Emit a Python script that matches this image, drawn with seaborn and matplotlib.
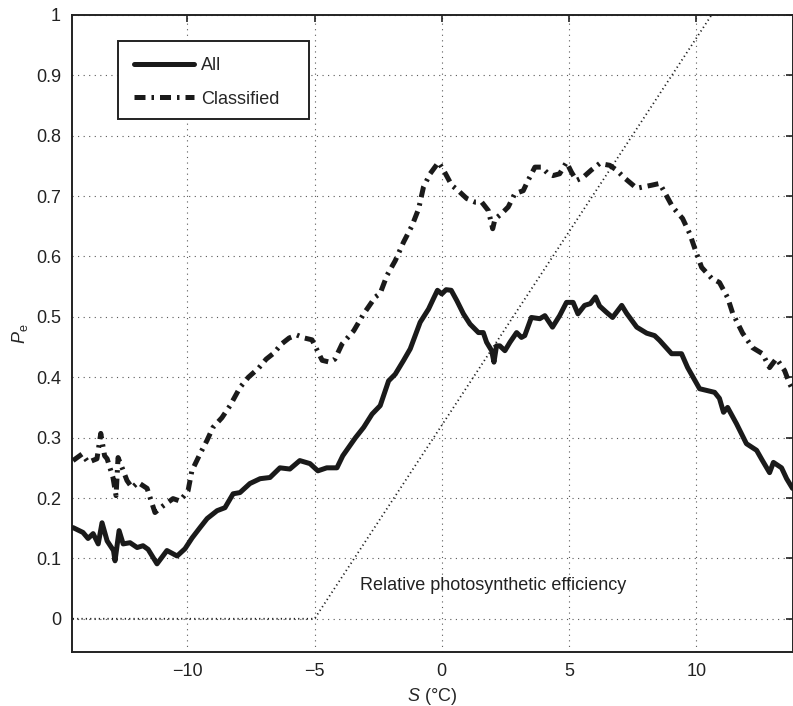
import numpy as np
import pandas as pd
import matplotlib
matplotlib.use("Agg")
import matplotlib.pyplot as plt
from matplotlib.patches import Rectangle
import seaborn as sns

# P_e curve, all data
all_x = [-14.49, -14.1, -13.9, -13.7, -13.5, -13.35, -13.15, -12.9, -12.84, -12.68,
         -12.52, -12.25, -11.97, -11.74, -11.54, -11.19, -10.8, -10.4, -10.09, -9.81,
         -9.5, -9.22, -8.83, -8.52, -8.2, -7.93, -7.54, -7.14, -6.75, -6.36,
         -5.97, -5.58, -5.18, -4.87, -4.52, -4.12, -3.89, -3.39, -3.07, -2.74,
         -2.42, -2.09, -1.83, -1.5, -1.24, -0.85, -0.52, -0.33, -0.17, 0.0,
         0.17, 0.37, 0.59, 0.85, 1.11, 1.44, 1.63, 1.76, 1.96, 2.05,
         2.15, 2.28, 2.48, 2.68, 2.94, 3.13, 3.26, 3.52, 3.85, 4.05,
         4.35, 4.63, 4.9, 5.16, 5.35, 5.61, 5.84, 6.04, 6.2, 6.46,
         6.71, 7.07, 7.26, 7.66, 8.05, 8.36, 8.56, 9.03, 9.42, 9.66,
         10.13, 10.72, 10.91, 11.07, 11.23, 11.58, 11.97, 12.37, 12.6, 12.88,
         13.03, 13.35, 13.55, 13.78]
all_y = [0.151, 0.143, 0.133, 0.141, 0.124, 0.159, 0.129, 0.113, 0.096, 0.146,
         0.124, 0.126, 0.118, 0.121, 0.115, 0.091, 0.113, 0.104, 0.116, 0.134,
         0.151, 0.166, 0.179, 0.184, 0.207, 0.209, 0.224, 0.232, 0.234, 0.25,
         0.248, 0.262, 0.257, 0.245, 0.25, 0.25, 0.27, 0.30, 0.317, 0.339,
         0.353, 0.394, 0.405, 0.428, 0.447, 0.491, 0.513, 0.53, 0.544, 0.538,
         0.545, 0.544, 0.527, 0.505, 0.488, 0.474, 0.474, 0.458, 0.444, 0.425,
         0.452, 0.452, 0.444, 0.458, 0.474, 0.466, 0.469, 0.499, 0.497, 0.502,
         0.483, 0.502, 0.524, 0.524, 0.505, 0.519, 0.522, 0.533, 0.518, 0.508,
         0.499, 0.519, 0.506, 0.483, 0.473, 0.469, 0.461, 0.439, 0.439, 0.416,
         0.381, 0.375, 0.365, 0.342, 0.35, 0.323, 0.29, 0.279, 0.262, 0.242,
         0.259, 0.25, 0.232, 0.216]

# P_e curve, classified data
cls_x = [-14.49, -14.13, -13.9, -13.55, -13.4, -13.25, -13.15, -12.92, -12.8, -12.72,
         -12.56, -12.37, -12.17, -11.94, -11.58, -11.27, -10.95, -10.56, -10.29, -9.97,
         -9.82, -9.5, -9.23, -8.99, -8.64, -8.32, -7.93, -7.6, -7.2, -6.9,
         -6.6, -6.3, -6.0, -5.7, -5.4, -5.1, -4.9, -4.7, -4.4, -4.2,
         -3.92, -3.46, -3.07, -2.61, -2.42, -2.15, -1.83, -1.5, -1.17, -0.91,
         -0.72, -0.46, -0.13, 0.07, 0.39, 0.65, 0.98, 1.31, 1.57, 1.83,
         2.0, 2.09, 2.35, 2.61, 2.87, 3.2, 3.39, 3.66, 3.92, 4.18,
         4.37, 4.63, 4.9, 5.09, 5.29, 5.55, 5.87, 6.2, 6.6, 6.87,
         7.18, 7.66, 7.89, 8.24, 8.56, 8.76, 9.07, 9.46, 9.74, 10.01,
         10.21, 10.6, 10.91, 11.23, 11.43, 11.82, 12.21, 12.6, 12.88, 13.15,
         13.47, 13.66, 13.78]
cls_y = [0.262, 0.273, 0.259, 0.265, 0.307, 0.27, 0.265, 0.234, 0.204, 0.267,
         0.25, 0.229, 0.217, 0.226, 0.216, 0.176, 0.187, 0.199, 0.195, 0.212,
         0.245, 0.273, 0.295, 0.317, 0.333, 0.353, 0.383, 0.40, 0.415, 0.43,
         0.44, 0.455, 0.465, 0.47, 0.465, 0.462, 0.445, 0.428, 0.425, 0.43,
         0.455, 0.477, 0.505, 0.533, 0.539, 0.569, 0.593, 0.624, 0.651, 0.679,
         0.715, 0.737, 0.756, 0.743, 0.718, 0.709, 0.696, 0.69, 0.69, 0.676,
         0.646, 0.662, 0.671, 0.682, 0.704, 0.709, 0.726, 0.748, 0.748, 0.737,
         0.734, 0.737, 0.756, 0.74, 0.726, 0.731, 0.743, 0.754, 0.751, 0.743,
         0.73, 0.713, 0.715, 0.718, 0.721, 0.706, 0.682, 0.663, 0.638, 0.605,
         0.582, 0.564, 0.557, 0.532, 0.506, 0.473, 0.449, 0.439, 0.416, 0.431,
         0.411, 0.39, 0.38]

# relative photosynthetic efficiency
eff_x = [-14.5, -5.0, 10.6, 14.0]
eff_y = [0.0, 0.0, 1.0, 1.219]

x_ticks = [-10, -5, 0, 5, 10]
y_ticks = [0, 0.1, 0.2, 0.3, 0.4, 0.5, 0.6, 0.7, 0.8, 0.9, 1]

sns.set_style("white")
plt.rcParams['font.family'] = ['Liberation Sans', 'DejaVu Sans']
plt.rcParams['mathtext.fontset'] = 'custom'
plt.rcParams['mathtext.rm'] = 'Liberation Sans'
plt.rcParams['mathtext.it'] = 'Liberation Sans:italic'

fig = plt.figure(figsize=(7.93, 7.06), dpi=100)
ax = fig.add_axes([0.0908, 0.0765, 0.9092, 0.9023])

df_all = pd.DataFrame({'x': all_x, 'y': all_y})
df_cls = pd.DataFrame({'x': cls_x, 'y': cls_y})
df_eff = pd.DataFrame({'x': eff_x, 'y': eff_y})

sns.lineplot(data=df_eff, x='x', y='y', ax=ax, color='#222222', lw=1.3,
             linestyle=(0, (0.7, 1.7)), sort=False, zorder=2)
sns.lineplot(data=df_all, x='x', y='y', ax=ax, color='#1a1a1a', lw=3.6,
             sort=False, label='All', zorder=3)
sns.lineplot(data=df_cls, x='x', y='y', ax=ax, color='#1a1a1a', lw=3.6,
             linestyle=(0, (2.2, 1.2, 0.5, 1.2)), sort=False,
             label='Classified', zorder=3)

ax.text(-3.2, 0.055, 'Relative photosynthetic efficiency', fontsize=13,
        va='center', ha='left', color='#222222')

ax.set_xlim(-14.53, 13.8)
ax.set_ylim(-0.055, 1.0)
ax.set_xticks(x_ticks)
ax.set_yticks(y_ticks)
ax.set_yticklabels(['%g' % v for v in y_ticks])
ax.grid(True, linestyle=(0, (1, 4)), color='0.35', lw=0.8)
ax.tick_params(direction='in', length=5, width=1.2, top=True, right=True,
               labelsize=13, colors='#222222', pad=8)
for s in ax.spines.values():
    s.set_linewidth(1.4)
    s.set_color('#222222')

ax.set_xlabel('$S$ (°C)', fontsize=13, labelpad=4)
ax.set_ylabel('$P_\\mathrm{e}$', fontsize=13, labelpad=4)

# legend box, MATLAB style (wider on the right)
box = Rectangle((118 / 793, 1 - 119 / 706), 191 / 793, 78 / 706,
                transform=fig.transFigure, facecolor='white',
                edgecolor='#222222', lw=1.4, zorder=5, clip_on=False)
ax.add_patch(box)
leg = ax.legend(loc='upper left', bbox_to_anchor=(0.0638, 0.959),
                borderaxespad=0, fontsize=13, handlelength=3.3,
                labelspacing=0.9, borderpad=0.9, handletextpad=0.4,
                frameon=False)
leg.set_zorder(6)

fig.savefig('out.png', dpi=100)
